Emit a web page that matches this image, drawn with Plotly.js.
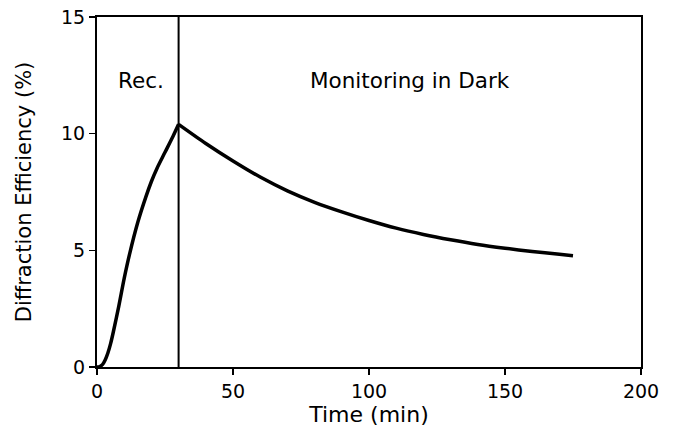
<!DOCTYPE html>
<html>
<head>
<script src="https://cdn.plot.ly/plotly-3.0.1.min.js"></script>
<style>html,body{margin:0;padding:0;background:#fff;}#chart{width:678px;height:440px;}</style>
</head>
<body>
<div id="chart"></div>
<script>
// Recording phase (min, %)
const recTime = [0, 1, 2, 3, 4, 5, 6, 8, 10, 12, 15, 18, 20, 22, 25, 28, 30];
const recDE   = [0, 0.02, 0.1, 0.3, 0.6, 1.0, 1.5, 2.6, 3.8, 4.85, 6.2, 7.3, 7.95, 8.5, 9.2, 9.9, 10.4];
// Monitoring in dark (min, %)
const darkTime = [30, 40, 50, 60, 70, 80, 90, 100, 110, 120, 130, 140, 150, 160, 170, 175];
const darkDE   = [10.4, 9.58, 8.83, 8.14, 7.55, 7.06, 6.65, 6.28, 5.95, 5.68, 5.45, 5.25, 5.09, 4.95, 4.83, 4.77];
const recordingEnd = 30;
const labels = ["Rec.", "Monitoring in Dark"];
const labelX = [16, 115];
const labelY = [12.3, 12.3];

const font = "DejaVu Sans, Verdana, sans-serif";
const lineStyle = {color: '#000', width: 3.5, shape: 'spline', smoothing: 0.8};
Plotly.newPlot('chart', [
  {x: recTime, y: recDE, type: 'scatter', mode: 'lines', line: lineStyle, showlegend: false, hoverinfo: 'skip'},
  {x: darkTime, y: darkDE, type: 'scatter', mode: 'lines', line: lineStyle, showlegend: false, hoverinfo: 'skip'}
], {
  width: 678, height: 440,
  margin: {l: 97, r: 37, t: 17, b: 73},
  paper_bgcolor: '#fff', plot_bgcolor: '#fff',
  font: {family: font, color: '#000'},
  xaxis: {
    range: [0, 200], tickvals: [0, 50, 100, 150, 200],
    showgrid: false, zeroline: false, showline: true, linecolor: '#000', linewidth: 2, mirror: true,
    ticks: 'outside', ticklen: 6, tickwidth: 1.5, tickcolor: '#000',
    tickfont: {size: 19, family: font},
    title: {text: 'Time (min)', font: {size: 22, family: font}, standoff: 6}
  },
  yaxis: {
    range: [0, 15], tickvals: [0, 5, 10, 15],
    showgrid: false, zeroline: false, showline: true, linecolor: '#000', linewidth: 2, mirror: true,
    ticks: 'outside', ticklen: 6, tickwidth: 1.5, tickcolor: '#000',
    tickfont: {size: 19, family: font},
    title: {text: 'Diffraction Efficiency (%)', font: {size: 21, family: font}, standoff: 24}
  },
  shapes: [{type: 'line', xref: 'x', yref: 'y', x0: recordingEnd, x1: recordingEnd, y0: 0, y1: 15,
            line: {color: '#000', width: 2}}],
  annotations: labels.map((t, i) => ({
    text: t, x: labelX[i], y: labelY[i], xref: 'x', yref: 'y', showarrow: false,
    font: {size: 21.5, family: font, color: '#000'}
  }))
}, {staticPlot: true});
</script>
</body>
</html>
